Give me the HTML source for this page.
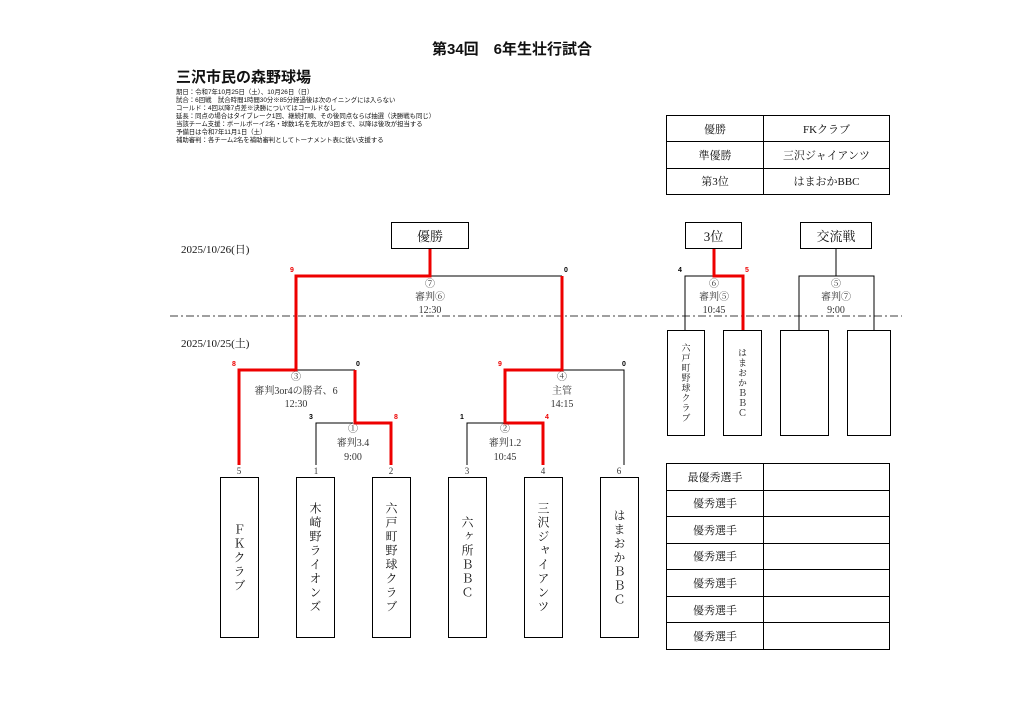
<!DOCTYPE html>
<html><head><meta charset="utf-8"><style>
body{margin:0;width:1024px;height:724px;background:#fff;position:relative;overflow:hidden;font-family:"Liberation Serif","Noto Serif CJK SC","Noto Sans CJK JP",serif;color:#111}
.a{position:absolute}
.vb{position:absolute;border:1px solid #000;box-sizing:border-box;display:flex;align-items:center;justify-content:center}
.vt{writing-mode:vertical-rl;text-orientation:upright;font-size:12px;letter-spacing:2px}
.note{font-family:"Liberation Sans","Noto Sans CJK JP",sans-serif;font-size:6.4px;line-height:8px;left:176px;top:89px;white-space:nowrap}
table{border-collapse:collapse;position:absolute}
td{border:1px solid #000;text-align:center;font-size:11px;padding:0}
</style></head><body>
<div class="a" style="left:0;width:1024px;top:38px;text-align:center;font-size:15px;font-weight:bold;font-family:'Liberation Sans','Noto Sans CJK JP',sans-serif">第34回　6年生壮行試合</div>
<div class="a" style="left:176px;top:66px;font-size:15px;font-weight:bold;font-family:'Liberation Sans','Noto Sans CJK JP',sans-serif">三沢市民の森野球場</div>
<div class="a note">期日：令和7年10月25日（土）、10月26日（日）<br>試合：6回戦　試合時間1時間30分※85分経過後は次のイニングには入らない<br>コールド：4回以降7点差※決勝についてはコールドなし<br>延長：同点の場合はタイブレーク1回、継続打順、その後同点ならば抽選（決勝戦も同じ）<br>当該チーム支援：ボールボーイ2名・球数1名を先攻が3回まで、以降は後攻が担当する<br>予備日は令和7年11月1日（土）<br>補助審判：各チーム2名を補助審判としてトーナメント表に従い支援する</div>

<table style="left:666px;top:115px;width:224px;height:80px">
<tr><td style="width:96px">優勝</td><td>FKクラブ</td></tr>
<tr><td>準優勝</td><td>三沢ジャイアンツ</td></tr>
<tr><td>第3位</td><td>はまおかBBC</td></tr>
</table>

<table style="left:666px;top:463px;width:224px;height:187px">
<tr><td style="width:96px">最優秀選手</td><td></td></tr>
<tr><td>優秀選手</td><td></td></tr>
<tr><td>優秀選手</td><td></td></tr>
<tr><td>優秀選手</td><td></td></tr>
<tr><td>優秀選手</td><td></td></tr>
<tr><td>優秀選手</td><td></td></tr>
<tr><td>優秀選手</td><td></td></tr>
</table>

<div class="vb" style="left:391px;top:222px;width:78px;height:27px;font-size:13px">優勝</div>
<div class="vb" style="left:685px;top:222px;width:57px;height:27px;font-size:13px">3位</div>
<div class="vb" style="left:800px;top:222px;width:72px;height:27px;font-size:13px">交流戦</div>

<div class="a" style="left:181px;top:241px;font-size:11px">2025/10/26(日)</div>
<div class="a" style="left:181px;top:335px;font-size:11px">2025/10/25(土)</div>

<svg class="a" style="left:0;top:0" width="1024" height="724" font-family="Liberation Serif,Noto Serif CJK SC,serif">
<line x1="170" y1="316" x2="902" y2="316" stroke="#666" stroke-width="1.2" stroke-dasharray="8,3,2,3"/>
<g stroke="#000" stroke-width="1" fill="none">
<path d="M430 276H562"/><path d="M296 370H355"/><path d="M316 465V423H353"/>
<path d="M562 370H624V465"/><path d="M467 465V423H505"/>
<path d="M685 330V276H714"/>
<path d="M836 249V276M799 330V276H874V330"/>
</g>
<g stroke="#e00" stroke-width="3" fill="none">
<path d="M430 249V276H296V370H239V465"/>
<path d="M562 276V370H505V423H543V465"/>
<path d="M355 370V423H391V465"/>
<path d="M714 249V276H743V330"/>
</g>
<g font-size="10" text-anchor="middle" fill="#333">
<text x="430" y="287">⑦</text><text x="430" y="300">審判⑥</text><text x="430" y="313">12:30</text>
<text x="296" y="380">③</text><text x="296" y="394">審判3or4の勝者、6</text><text x="296" y="407">12:30</text>
<text x="353" y="432">①</text><text x="353" y="446">審判3.4</text><text x="353" y="460">9:00</text>
<text x="562" y="380">④</text><text x="562" y="394">主管</text><text x="562" y="407">14:15</text>
<text x="505" y="432">②</text><text x="505" y="446">審判1.2</text><text x="505" y="460">10:45</text>
<text x="714" y="287">⑥</text><text x="714" y="300">審判⑤</text><text x="714" y="313">10:45</text>
<text x="836" y="287">⑤</text><text x="836" y="300">審判⑦</text><text x="836" y="313">9:00</text>
<text x="239" y="474" font-size="9">5</text><text x="316" y="474" font-size="9">1</text><text x="391" y="474" font-size="9">2</text>
<text x="467" y="474" font-size="9">3</text><text x="543" y="474" font-size="9">4</text><text x="619" y="474" font-size="9">6</text>
</g>
<g font-size="7" font-weight="bold" font-family="Liberation Sans,sans-serif" text-anchor="middle">
<text x="292" y="272" fill="#e00">9</text><text x="566" y="272">0</text>
<text x="234" y="366" fill="#e00">8</text><text x="358" y="366">0</text>
<text x="500" y="366" fill="#e00">9</text><text x="624" y="366">0</text>
<text x="311" y="419">3</text><text x="396" y="419" fill="#e00">8</text>
<text x="462" y="419">1</text><text x="547" y="419" fill="#e00">4</text>
<text x="680" y="272">4</text><text x="747" y="272" fill="#e00">5</text>
</g>
</svg>

<div class="vb" style="left:220px;top:477px;width:39px;height:161px"><span class="vt">ＦＫクラブ</span></div>
<div class="vb" style="left:296px;top:477px;width:39px;height:161px"><span class="vt">木崎野ライオンズ</span></div>
<div class="vb" style="left:372px;top:477px;width:39px;height:161px"><span class="vt">六戸町野球クラブ</span></div>
<div class="vb" style="left:448px;top:477px;width:39px;height:161px"><span class="vt">六ヶ所ＢＢＣ</span></div>
<div class="vb" style="left:524px;top:477px;width:39px;height:161px"><span class="vt">三沢ジャイアンツ</span></div>
<div class="vb" style="left:600px;top:477px;width:39px;height:161px"><span class="vt">はまおかＢＢＣ</span></div>

<div class="vb" style="left:667px;top:330px;width:38px;height:106px"><span class="vt" style="font-size:9px;letter-spacing:1px">六戸町野球クラブ</span></div>
<div class="vb" style="left:723px;top:330px;width:39px;height:106px"><span class="vt" style="font-size:9px;letter-spacing:1px">はまおかＢＢＣ</span></div>
<div class="vb" style="left:780px;top:330px;width:49px;height:106px"></div>
<div class="vb" style="left:847px;top:330px;width:44px;height:106px"></div>
</body></html>
